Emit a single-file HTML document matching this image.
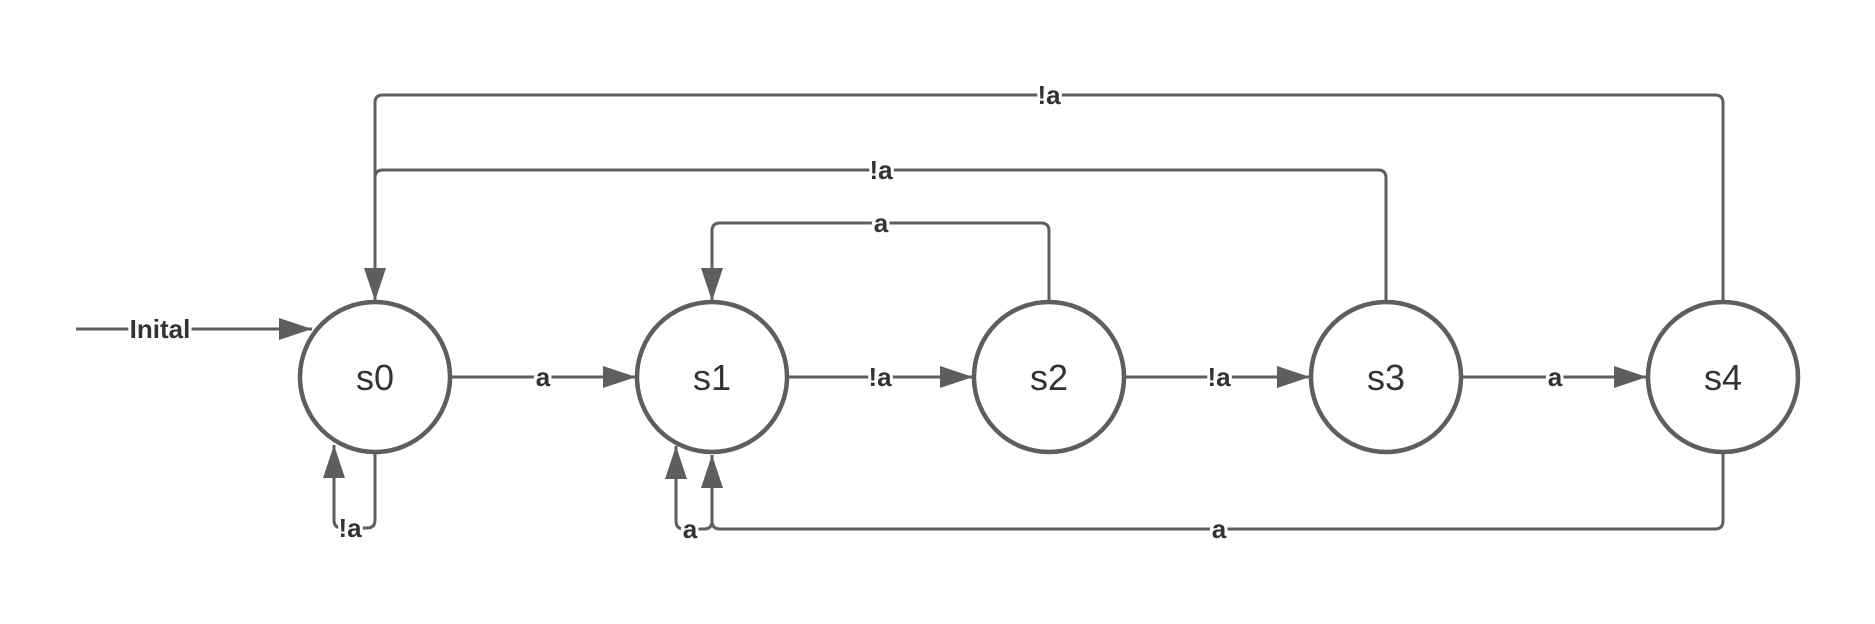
<!DOCTYPE html>
<html><head><meta charset="utf-8"><style>
html,body{margin:0;padding:0;background:#fff;width:1875px;height:624px;overflow:hidden}
</style></head><body>
<svg width="1875" height="624" viewBox="0 0 1875 624" xmlns="http://www.w3.org/2000/svg">
<defs>
<marker id="ar" markerWidth="34" markerHeight="22" refX="33" refY="11" orient="auto" markerUnits="userSpaceOnUse">
<path d="M0,0 L33,11 L0,22 Z" fill="#5e5e5e"/>
</marker>
</defs>
<g fill="none" stroke="#5e5e5e" stroke-width="3">
<!-- initial -->
<path d="M76,329 L312,329" marker-end="url(#ar)"/>
<!-- horizontal transitions -->
<path d="M451,377 L636,377" marker-end="url(#ar)"/>
<path d="M788,377 L973,377" marker-end="url(#ar)"/>
<path d="M1125,377 L1310,377" marker-end="url(#ar)"/>
<path d="M1462,377 L1647,377" marker-end="url(#ar)"/>
<!-- top loops -->
<path d="M1723,301 L1723,103 Q1723,95 1715,95 L383,95 Q375,95 375,103 L375,301" marker-end="url(#ar)"/>
<path d="M1386,301 L1386,178 Q1386,170 1378,170 L383,170 Q375,170 375,178"/>
<path d="M1049,301 L1049,231 Q1049,223 1041,223 L720,223 Q712,223 712,231 L712,301" marker-end="url(#ar)"/>
<!-- bottom -->
<path d="M1723,453 L1723,521 Q1723,529 1715,529 L720,529 Q712,529 712,521 L712,455" marker-end="url(#ar)"/>
<path d="M712,521 Q712,529 704,529 L684,529 Q676,529 676,521 L676,446" marker-end="url(#ar)"/>
<path d="M375,453 L375,520 Q375,528 367,528 L342,528 Q334,528 334,520 L334,445" marker-end="url(#ar)"/>
</g>
<g fill="#fff" stroke="#5e5e5e" stroke-width="4.5">
<circle cx="375" cy="377" r="75"/>
<circle cx="712" cy="377" r="75"/>
<circle cx="1049" cy="377" r="75"/>
<circle cx="1386" cy="377" r="75"/>
<circle cx="1723" cy="377" r="75"/>
</g>
<g font-family="Liberation Sans, sans-serif" font-size="36" fill="#333" text-anchor="middle">
<text x="375" y="390">s0</text>
<text x="712" y="390">s1</text>
<text x="1049" y="390">s2</text>
<text x="1386" y="390">s3</text>
<text x="1723" y="390">s4</text>
</g>
<g font-family="Liberation Sans, sans-serif" font-size="26" font-weight="bold" fill="#333" text-anchor="middle" stroke="#fff" stroke-width="6" paint-order="stroke">
<text x="160" y="338">Inital</text>
<text x="543" y="386">a</text>
<text x="880" y="386">!a</text>
<text x="1219" y="386">!a</text>
<text x="1555" y="386">a</text>
<text x="1049" y="104">!a</text>
<text x="881" y="179">!a</text>
<text x="881" y="232">a</text>
<text x="1219" y="538">a</text>
<text x="350" y="537">!a</text>
<text x="690" y="538">a</text>
</g>
</svg>
</body></html>
